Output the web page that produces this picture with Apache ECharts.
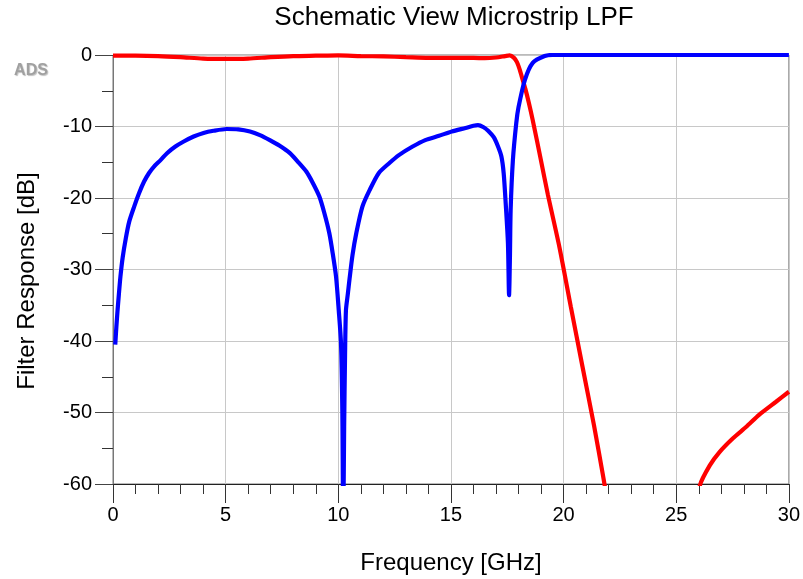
<!DOCTYPE html>
<html>
<head>
<meta charset="utf-8">
<script src="https://cdn.jsdelivr.net/npm/echarts@6/dist/echarts.min.js"></script>
<style>
html,body{margin:0;padding:0;background:#fff;}
#chart{width:803px;height:579px;}
</style>
</head>
<body>
<div id="chart"></div>
<script>
// ---- data ----
var titleText = 'Schematic View Microstrip LPF';
var xName = 'Frequency [GHz]';
var yName = 'Filter Response [dB]';
var xTicks = [0, 5, 10, 15, 20, 25, 30];
var yTicks = [0, -10, -20, -30, -40, -50, -60];

// S11 (blue)
var blueFreq = [0.1, 0.15, 0.2, 0.26, 0.33, 0.43, 0.57, 0.72, 0.94, 1.16, 1.38, 1.6, 1.82, 2.11, 2.41, 2.77, 3.14, 3.58, 4.02, 4.46, 5.05, 5.56, 6.08, 6.52, 6.96, 7.4, 7.84, 8.2, 8.58, 8.87, 9.16, 9.38, 9.6, 9.75, 9.9, 10.02, 10.12, 10.18, 10.22, 10.26, 10.3, 10.34, 10.42, 10.5, 10.63, 10.8, 11.07, 11.39, 11.8, 12.27, 12.69, 13.3, 13.86, 14.47, 15.04, 15.65, 16.0, 16.2, 16.45, 16.65, 16.9, 17.09, 17.24, 17.34, 17.43, 17.53, 17.58, 17.62, 17.65, 17.75, 17.9, 18.0, 18.28, 18.63, 19.16, 19.5, 22, 25, 30];
var blueDb   = [-40.5, -38, -35.8, -33.5, -31, -28.3, -25.6, -23.3, -21.2, -19.3, -17.7, -16.5, -15.6, -14.7, -13.7, -12.8, -12.1, -11.4, -10.9, -10.6, -10.35, -10.4, -10.7, -11.2, -11.9, -12.7, -13.7, -14.9, -16.3, -17.9, -19.8, -22.1, -24.9, -27.7, -31, -35.7, -40.3, -50, -66, -52, -42, -35.7, -33.5, -31.3, -28.0, -24.9, -21.2, -18.9, -16.5, -15.1, -14.0, -12.8, -11.9, -11.3, -10.7, -10.2, -9.9, -9.8, -10.1, -10.6, -11.5, -12.8, -14.2, -16.5, -20.7, -26.3, -33.6, -28, -21.7, -14.7, -9.5, -7.3, -3.5, -1.1, -0.15, 0, 0, 0, 0];

// S21 (red)
var redFreq = [0, 1, 2, 3, 4, 5, 6, 7, 8, 9, 10, 11, 12, 13, 14, 15, 16, 16.5, 17, 17.4, 17.6, 17.8, 17.93, 18.05, 18.15, 18.3, 18.46, 18.63, 19.0, 19.3, 19.81, 20.32, 20.84, 21.35, 21.76, 22.2, 23, 24, 25, 25.6, 26.05, 26.49, 26.93, 27.52, 28.11, 28.69, 29.43, 30];
var redDb   = [-0.1, -0.1, -0.15, -0.3, -0.5, -0.55, -0.5, -0.3, -0.15, -0.1, -0.05, -0.15, -0.2, -0.3, -0.4, -0.4, -0.4, -0.45, -0.35, -0.15, -0.05, -0.4, -1.0, -2.0, -3.1, -4.7, -6.7, -9.1, -14.8, -19.5, -26.8, -35.2, -43.6, -51.8, -59.0, -67, -80, -95, -80, -68, -60.2, -57.4, -55.5, -53.6, -52.0, -50.3, -48.5, -47.1];

function zip(a, b) { return a.map(function (v, i) { return [v, b[i]]; }); }

var FONT = '"Liberation Sans", Arial, sans-serif';
var chart = echarts.init(document.getElementById('chart'), null, {renderer: 'canvas'});
chart.setOption({
  animation: false,
  backgroundColor: '#fff',
  grid: {left: 113, right: 13, top: 55, bottom: 95, show: true, borderColor: '#777', borderWidth: 1},
  xAxis: {
    type: 'value', min: xTicks[0], max: xTicks[xTicks.length - 1], interval: 5,
    axisLine: {show: true, onZero: false, lineStyle: {color: '#222', width: 1}},
    axisTick: {show: true, length: 19, lineStyle: {color: '#333'}},
    minorTick: {show: true, splitNumber: 5, length: 10, lineStyle: {color: '#333'}},
    splitLine: {show: true, lineStyle: {color: '#c8c8c8', width: 1}},
    axisLabel: {color: '#000', fontSize: 20, fontFamily: FONT, margin: 21}
  },
  yAxis: {
    type: 'value', min: yTicks[yTicks.length - 1], max: yTicks[0], interval: 10,
    axisLine: {show: true, onZero: false, lineStyle: {color: '#777', width: 1}},
    axisTick: {show: true, length: 18, lineStyle: {color: '#444'}},
    minorTick: {show: true, splitNumber: 2, length: 11, lineStyle: {color: '#333'}},
    splitLine: {show: true, lineStyle: {color: '#c8c8c8', width: 1}},
    axisLabel: {color: '#000', fontSize: 20, fontFamily: FONT, margin: 21}
  },
  series: [
    {type: 'line', data: zip(redFreq, redDb), symbol: 'none', smooth: 0.25, clip: true,
     lineStyle: {color: '#ff0000', width: 4.2}, z: 2},
    {type: 'line', data: zip(blueFreq, blueDb), symbol: 'none', smooth: 0.25, clip: true,
     lineStyle: {color: '#0000ff', width: 4.2}, z: 3}
  ],
  graphic: [
    {type: 'text', x: 454, y: 18, style: {text: titleText, fill: '#000', font: '26px ' + FONT, textAlign: 'center', textVerticalAlign: 'middle'}},
    {type: 'text', x: 451, y: 563, style: {text: xName, fill: '#000', font: '24px ' + FONT, textAlign: 'center', textVerticalAlign: 'middle'}},
    {type: 'text', x: 27, y: 281, rotation: Math.PI / 2, style: {text: yName, fill: '#000', font: '24px ' + FONT, textAlign: 'center', textVerticalAlign: 'middle'}},
    {type: 'text', x: 31, y: 71, style: {text: 'ADS', fill: '#a0a0a0', font: 'bold 16px ' + FONT, textAlign: 'center', textVerticalAlign: 'middle', textShadowColor: 'rgba(0,0,0,0.25)', textShadowBlur: 1, textShadowOffsetX: 1, textShadowOffsetY: 1}}
  ]
});
</script>
</body>
</html>
